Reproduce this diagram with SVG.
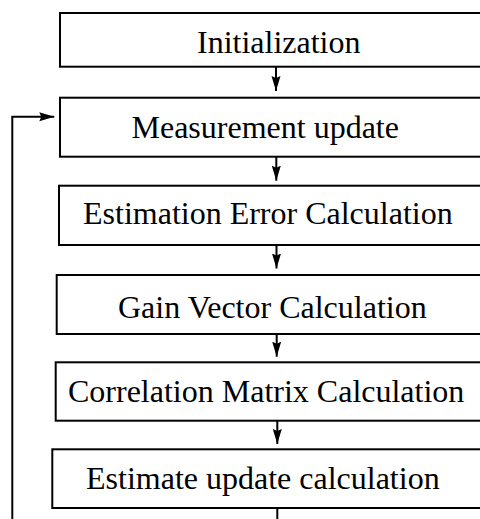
<svg xmlns="http://www.w3.org/2000/svg" width="480" height="519" viewBox="0 0 480 519">
  <style>
    .box { fill: #fff; stroke: #000; stroke-width: 2; }
    .lbl { font-family: "Liberation Serif", "Times New Roman", serif; font-size: 32px; fill: #000; }
    .wire { fill: none; stroke: #000; stroke-width: 2; }
  </style>
  <defs>
    <marker id="head" markerUnits="userSpaceOnUse" markerWidth="17" markerHeight="10" refX="15" refY="4.5" orient="auto">
      <path d="M0,0 L15,4.5 L0,9 L2,4.5 Z" fill="#000"/>
    </marker>
  </defs>
  <rect width="480" height="519" fill="#fff"/>

  <g id="initialization">
    <rect class="box" x="60" y="13" width="440" height="53.7"/>
    <text class="lbl" x="197" y="53.3">Initialization</text>
  </g>
  <g id="measurement-update">
    <rect class="box" x="60" y="97.7" width="440" height="59"/>
    <text class="lbl" x="131.5" y="138">Measurement update</text>
  </g>
  <g id="estimation-error">
    <rect class="box" x="59" y="185.7" width="441" height="59.3"/>
    <text class="lbl" x="83" y="224.3">Estimation Error Calculation</text>
  </g>
  <g id="gain-vector">
    <rect class="box" x="56.7" y="275" width="443" height="59"/>
    <text class="lbl" x="118" y="318.3">Gain Vector Calculation</text>
  </g>
  <g id="correlation-matrix">
    <rect class="box" x="55.7" y="362.3" width="444" height="58.4"/>
    <text class="lbl" x="68" y="401.7">Correlation Matrix Calculation</text>
  </g>
  <g id="estimate-update">
    <rect class="box" x="52.3" y="449.3" width="448" height="58.7"/>
    <text class="lbl" x="86" y="488.5">Estimate update calculation</text>
  </g>

  <g id="connectors">
    <line class="wire" x1="276" y1="66.7" x2="276" y2="91" marker-end="url(#head)"/>
    <line class="wire" x1="276.3" y1="156.7" x2="276.3" y2="180.7" marker-end="url(#head)"/>
    <line class="wire" x1="276.5" y1="245" x2="276.5" y2="268.5" marker-end="url(#head)"/>
    <line class="wire" x1="276.7" y1="334" x2="276.7" y2="356.7" marker-end="url(#head)"/>
    <line class="wire" x1="277.3" y1="420.7" x2="277.3" y2="444" marker-end="url(#head)"/>
    <line class="wire" x1="277.3" y1="508" x2="277.3" y2="525"/>
    <polyline class="wire" points="12.3,525 12.3,116.7 54.3,116.7" marker-end="url(#head)"/>
  </g>
</svg>
